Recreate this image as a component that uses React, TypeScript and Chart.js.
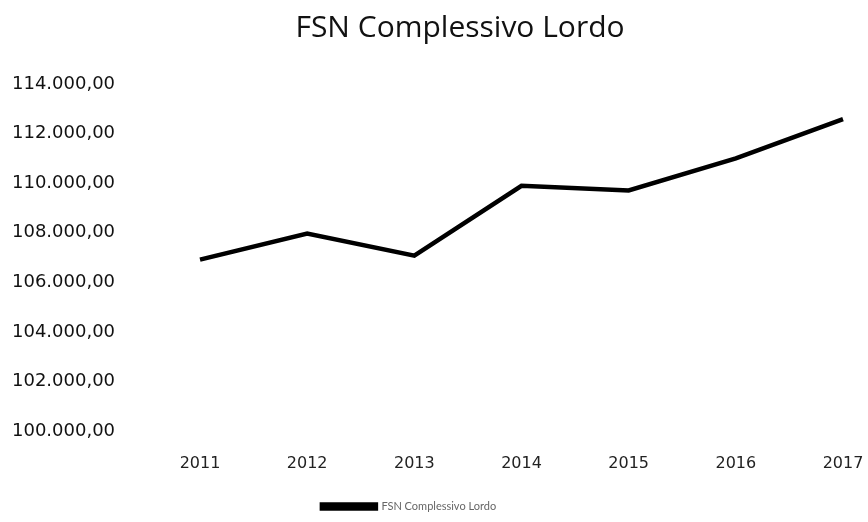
import React, { useEffect, useRef } from "react";
import { Chart, registerables } from "chart.js";

Chart.register(...registerables);

const years = ["2011", "2012", "2013", "2014", "2015", "2016", "2017"];
const fsnValues = [106915, 107970, 107075, 109890, 109705, 111000, 112580];
const seriesName = "FSN Complessivo Lordo";
const chartTitle = "FSN Complessivo Lordo";
const yMin = 100000;
const yMax = 114000;
const yStep = 2000;

function formatIt(v: number): string {
  const intPart = Math.round(v).toString().replace(/\B(?=(\d{3})+(?!\d))/g, ".");
  return intPart + ",00";
}

const shiftPlugin = {
  id: "shiftBlocks",
  afterLayout(chart: any) {
    if (chart.titleBlock) {
      chart.titleBlock.left = 77;
    }
    if (chart.legend) {
      chart.legend.right = 806;
    }
  },
};

export default function App() {
  const ref = useRef<HTMLCanvasElement | null>(null);
  useEffect(() => {
    if (!ref.current) return;
    const chart = new Chart(ref.current, {
      type: "line",
      data: {
        labels: years,
        datasets: [
          {
            label: seriesName,
            data: fsnValues,
            borderColor: "#000000",
            backgroundColor: "#000000",
            borderWidth: 4.5,
            pointRadius: 0,
            tension: 0,
            fill: false,
          },
        ],
      },
      options: {
        animation: false,
        responsive: false,
        maintainAspectRatio: false,
        layout: { padding: { left: 12, right: 25, top: 0, bottom: 0 } },
        plugins: {
          title: {
            display: true,
            text: chartTitle,
            color: "#111111",
            font: { family: "Open Sans", size: 30, weight: "normal" },
            padding: { top: 10, bottom: 38 },
          },
          legend: {
            display: true,
            position: "bottom",
            labels: {
              boxWidth: 54,
              boxHeight: 4,
              color: "#666666",
              font: { family: "Lato", size: 11 },
              padding: 7,
            },
          },
          tooltip: { enabled: false },
        },
        scales: {
          x: {
            grid: { display: false, drawTicks: true, tickLength: 20 },
            border: { display: false },
            offset: false,
            afterFit(scale: any) {
              scale.height = 63;
            },
            ticks: {
              color: "#222222",
              font: { family: "DejaVu Sans", size: 16 },
              padding: 3,
              maxRotation: 0,
            },
          },
          y: {
            min: yMin,
            max: yMax,
            grid: { display: false },
            border: { display: false },
            afterFit(scale: any) {
              scale.width = 188;
            },
            ticks: {
              stepSize: yStep,
              crossAlign: "far",
              color: "#111111",
              font: { family: "DejaVu Sans", size: 18 },
              callback: (v: any) => formatIt(Number(v)),
            },
          },
        },
      },
      plugins: [shiftPlugin],
    });
    return () => chart.destroy();
  }, []);
  return (
    <div style={{ position: "absolute", left: 0, top: 0, width: 868, height: 522, background: "#fff" }}>
      <canvas ref={ref} width={868} height={522} style={{ width: 868, height: 522 }} />
    </div>
  );
}
